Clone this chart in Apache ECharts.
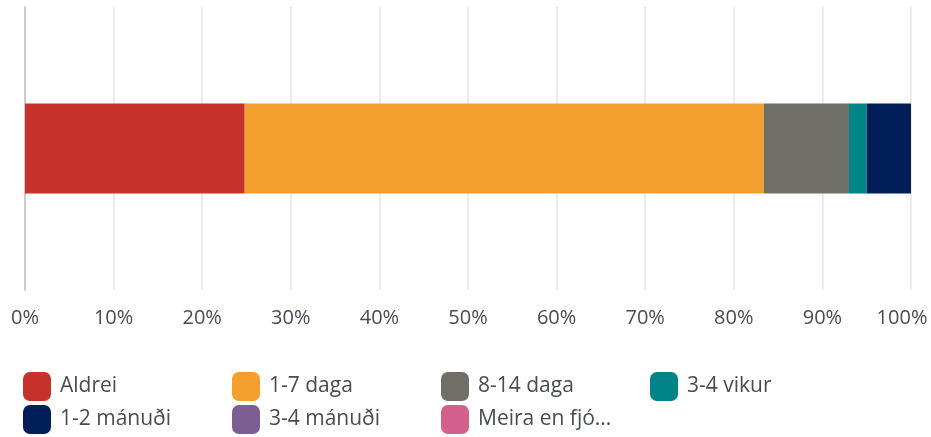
<!DOCTYPE html>
<html>
<head>
<meta charset="utf-8">
<script src="https://cdn.jsdelivr.net/npm/echarts@6/dist/echarts.min.js"></script>
<style>
html,body{margin:0;padding:0;background:#fff;}
#chart{width:931px;height:437px;}
</style>
</head>
<body>
<div id="chart"></div>
<script>
// data
var categories=["Svar"];
var seriesNames=["Aldrei","1-7 daga","8-14 daga","3-4 vikur","1-2 mánuði","3-4 mánuði","Meira en fjó..."];
var seriesValues=[24.8,58.6,9.6,2.0,5.0,0,0];
var colors=["#c6322b","#f29f2e","#6f6f67","#008487","#001e57","#7d5e93","#d45f8d"];

var textColor="#474c53";
var font="Open Sans";

var series=seriesNames.map(function(name,i){
    return {
        name:name,
        type:"bar",
        stack:"total",
        barWidth:90,
        data:[seriesValues[i]],
        itemStyle:{color:colors[i]}
    };
});

// one legend per item, 4 per row
var legends=seriesNames.map(function(name,i){
    return {
        left:23+(i%4)*209,
        top:372+Math.floor(i/4)*33,
        padding:0,
        itemWidth:28,itemHeight:29,
        icon:"roundRect",
        selectedMode:false,
        textStyle:{color:textColor,fontSize:21,fontFamily:font,padding:[0,0,0,4]},
        data:[name]
    };
});

var option={
    animation:false,
    color:colors,
    grid:{left:25,right:20,top:7,bottom:147,outerBoundsMode:"none"},
    xAxis:{
        type:"value",
        min:0,max:100,interval:10,
        axisLine:{show:false},
        axisTick:{show:false},
        axisLabel:{
            formatter:function(v){
                return v===100?"{r|"+v+"%}":v+"%";
            },
            rich:{r:{color:textColor,fontSize:20,fontFamily:font,padding:[0,18,0,0]}},
            color:textColor,fontSize:20,fontFamily:font,margin:18
        },
        splitLine:{lineStyle:{color:"#ececec",width:2}}
    },
    yAxis:{
        type:"category",
        data:categories,
        axisLine:{lineStyle:{color:"#cccccc",width:2}},
        axisTick:{show:false},
        axisLabel:{show:false}
    },
    legend:legends,
    series:series
};
echarts.init(document.getElementById("chart")).setOption(option);
</script>
</body>
</html>
